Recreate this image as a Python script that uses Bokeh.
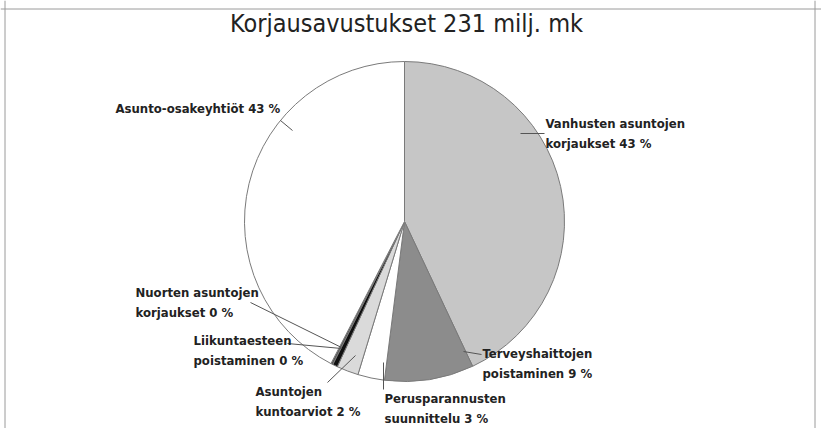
import math
from bokeh.plotting import figure
from bokeh.models import Range1d, Span, Label, ColumnDataSource
from bokeh.core.properties import value
from bokeh.embed import file_html
from bokeh.resources import INLINE

# ---- data ----
title_text = "Korjausavustukset 231 milj. mk"
categories = ["Vanhusten asuntojen korjaukset", "Terveyshaittojen poistaminen",
              "Perusparannusten suunnittelu", "Asuntojen kuntoarviot",
              "Liikuntaesteen poistaminen", "Nuorten asuntojen korjaukset",
              "Asunto-osakeyhtiöt"]
shares = [43.0, 9.0, 2.7, 2.2, 0.5, 0.2, 42.4]
label_line1 = ["Vanhusten asuntojen", "Terveyshaittojen", "Perusparannusten",
               "Asuntojen", "Liikuntaesteen", "Nuorten asuntojen",
               "Asunto-osakeyhtiöt 43 %"]
label_line2 = ["korjaukset 43 %", "poistaminen 9 %", "suunnittelu 3 %",
               "kuntoarviot 2 %", "poistaminen 0 %", "korjaukset  0 %", ""]

# ---- styles / layout ----
colors = ["#c6c6c6", "#8c8c8c", "#ffffff", "#dadada", "#111111", "#555555", "#ffffff"]
W, H = 821, 428
FONT = "DejaVu Sans Condensed"
def sx(x): return x
def sy(y): return H - y

cx, cy, R = sx(404), sy(221), 160
# label anchor (screen px): left x, first line center y
label_pos = [(545, 123), (482, 353), (384, 398), (255, 391), (193, 340), (135, 292), (115, 108)]
line_gap = 19.5
leaders = [((520, 133), (544, 133)), ((463, 351), (481, 354)), ((383, 362), (383, 389)),
           ((327, 382), (355, 355)), ((287, 343), (341, 348)), ((250, 302), (341, 347)),
           ((280, 120), (292, 130))]

total = sum(shares)
starts, ends = [], []
cum = 0.0
for s in shares:
    starts.append(math.pi / 2 - 2 * math.pi * cum / total)
    cum += s
    ends.append(math.pi / 2 - 2 * math.pi * cum / total)

src = ColumnDataSource(dict(cat=categories, share=shares, start=starts, end=ends, color=colors))

p = figure(width=W, height=H, output_backend="svg", toolbar_location=None,
           x_range=Range1d(0, W), y_range=Range1d(0, H), min_border=0)
p.axis.visible = False
p.grid.visible = False
p.outline_line_color = None
p.background_fill_color = "white"
p.border_fill_color = "white"

p.wedge(x=cx, y=cy, radius=R, start_angle="start", end_angle="end", direction="clock",
        fill_color="color", line_color="#7a7a7a", line_width=1, source=src)

# leader lines
p.segment(x0=[sx(a[0]) for a, b in leaders], y0=[sy(a[1]) for a, b in leaders],
          x1=[sx(b[0]) for a, b in leaders], y1=[sy(b[1]) for a, b in leaders],
          line_color="#555555", line_width=1)

lx, ly, lt = [], [], []
for (px, py), t1, t2 in zip(label_pos, label_line1, label_line2):
    lx.append(sx(px)); ly.append(sy(py)); lt.append(t1)
    if t2:
        lx.append(sx(px)); ly.append(sy(py + line_gap)); lt.append(t2)
p.text(x=lx, y=ly, text=lt, text_font=value(FONT),
       text_font_style="bold", text_font_size="13px", text_color="#222222",
       text_align="left", text_baseline="middle")

p.add_layout(Label(x=sx(406), y=sy(23), text=title_text, text_align="center",
                   text_baseline="middle", text_font=FONT,
                   text_font_size="25px", text_color="#222222"))

# frame (top, left, right)
for loc, dim in [(sy(8.5), "width"), (sx(4.5), "height"), (sx(814.5), "height")]:
    p.add_layout(Span(location=loc, dimension=dim, line_color="#9a9a9a", line_width=1))

open("out.html", "w").write(file_html(p, INLINE))
